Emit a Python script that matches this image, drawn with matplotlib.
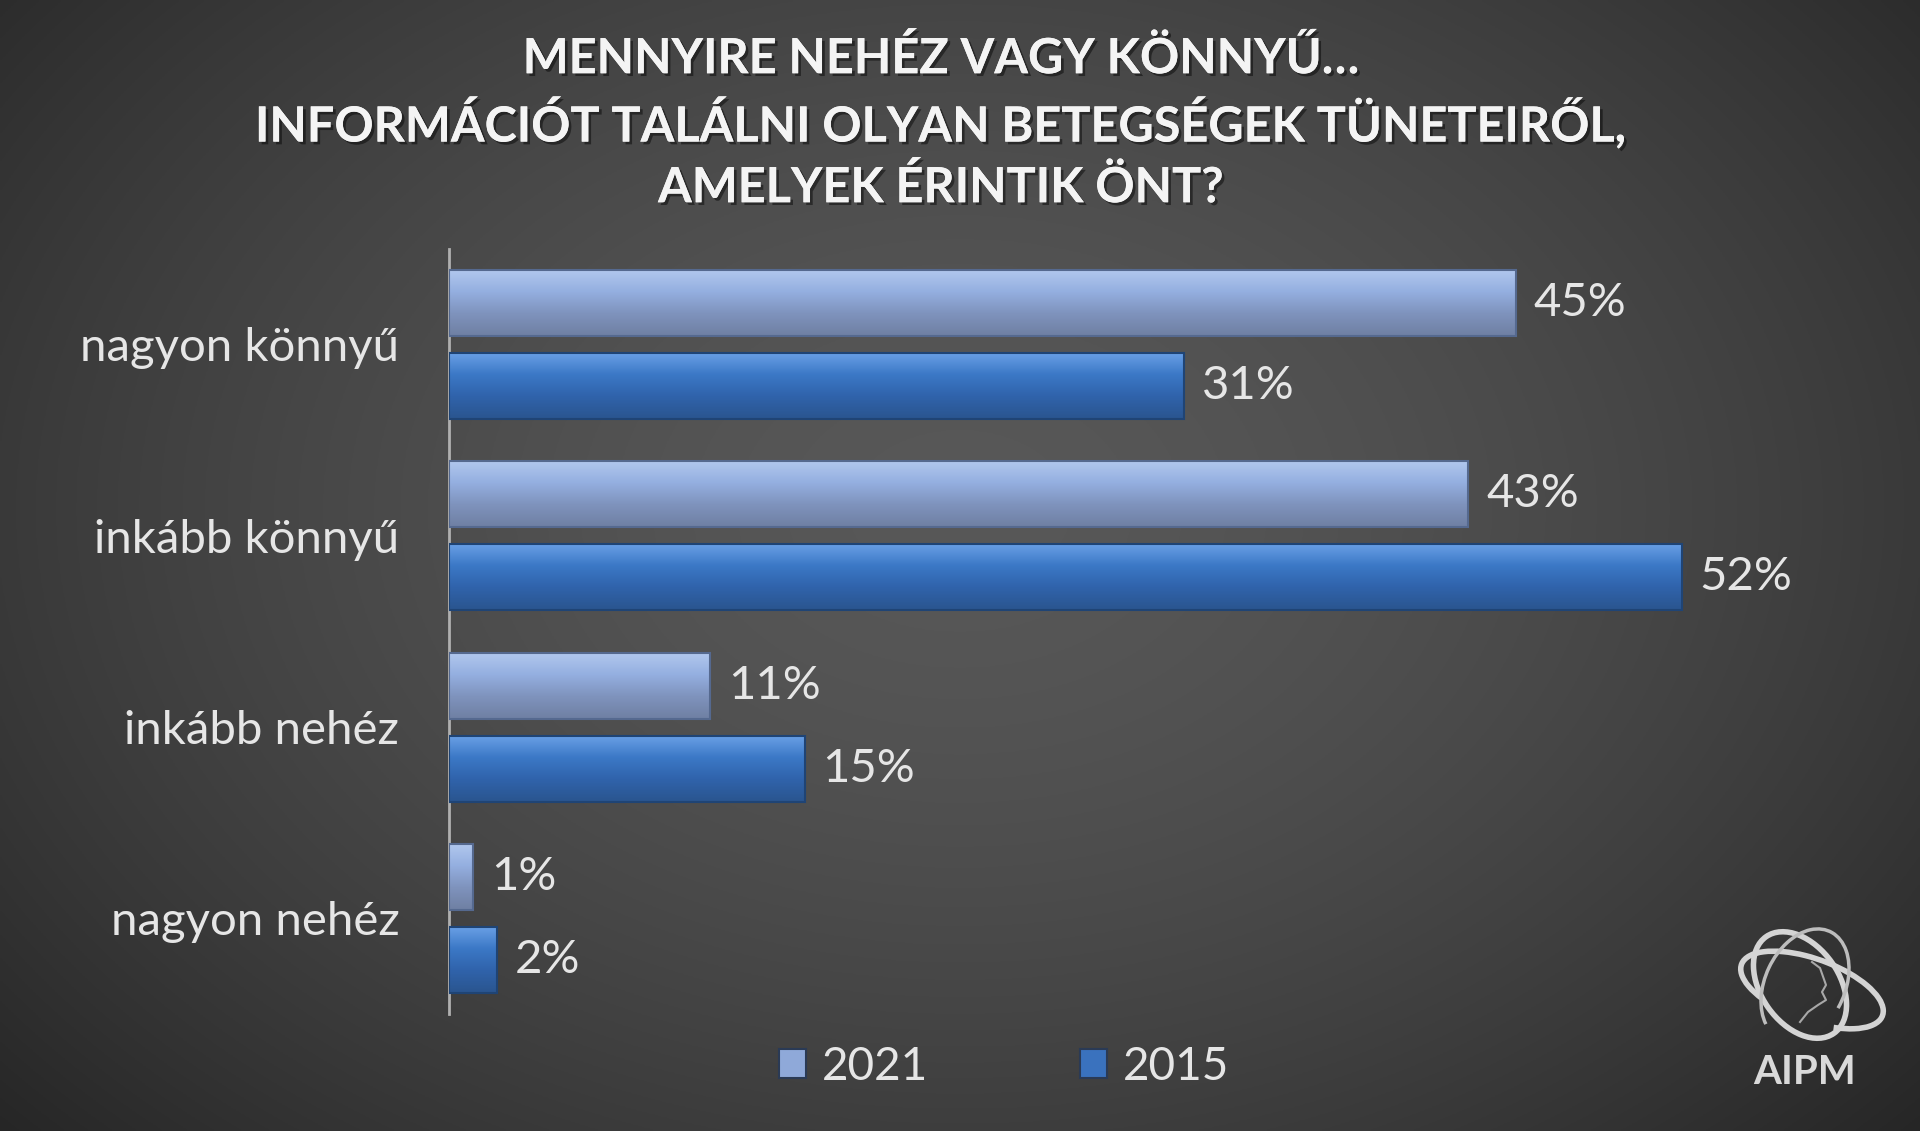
import numpy as np
import matplotlib.pyplot as plt
import matplotlib.patheffects as pe
from matplotlib.patches import Ellipse, Arc
from matplotlib.colors import LinearSegmentedColormap

plt.rcParams['font.family'] = ['Lato', 'DejaVu Sans']

categories = ["nagyon könnyű", "inkább könnyű", "inkább nehéz", "nagyon nehéz"]
series_names = ["2021", "2015"]
values_2021 = [45, 43, 11, 1]
values_2015 = [31, 52, 15, 2]
title_lines = ["MENNYIRE NEHÉZ VAGY KÖNNYŰ…",
               "INFORMÁCIÓT TALÁLNI OLYAN BETEGSÉGEK TÜNETEIRŐL,",
               "AMELYEK ÉRINTIK ÖNT?"]

txt = "#e6e6e6"

fig = plt.figure(figsize=(19.2, 11.31), dpi=100)

# background radial gradient
bg = fig.add_axes([0, 0, 1, 1], zorder=-10)
yy, xx = np.mgrid[0:1:400j, 0:1:700j]
r = np.sqrt(((xx - 0.5) / 0.62) ** 2 + ((yy - 0.55) / 0.75) ** 2)
shade = np.clip(0.345 - 0.17 * r ** 1.6, 0.15, 0.4)
bg.imshow(np.dstack([shade] * 3), extent=[0, 1, 0, 1], aspect="auto", origin="lower")
bg.set_axis_off()

ax = fig.add_axes([0.234, 0.1034, 0.7406, 0.6766])
ax.patch.set_alpha(0)

y = np.arange(len(categories))
h = 0.345
off = 0.217

light = LinearSegmentedColormap.from_list("l", ["#b2c8ee", "#94afe0", "#7f93bd", "#6f80a3"])
dark = LinearSegmentedColormap.from_list("d", ["#6aa0e6", "#3b78c6", "#3063ab", "#2a558f"])

bars1 = ax.barh(y - off, values_2021, height=h, color="#8fa9d9", label=series_names[0], zorder=2)
bars2 = ax.barh(y + off, values_2015, height=h, color="#3a72be", label=series_names[1], zorder=2)

grad = np.linspace(0, 1, 64).reshape(-1, 1)
for bars, cm, edge in [(bars1, light, "#55698f"), (bars2, dark, "#1f4475")]:
    for b in bars:
        x0, y0, w, hh = b.get_x(), b.get_y(), b.get_width(), b.get_height()
        ax.imshow(grad, cmap=cm, extent=[x0, x0 + w, y0 + hh, y0], aspect="auto",
                  origin="upper", zorder=3, interpolation="bilinear")
        b.set_edgecolor(edge)
        b.set_linewidth(1.5)
        b.set_zorder(4)
        b.set_facecolor("none")
        ax.text(w + 0.75, y0 + hh / 2, f"{w:.0f}%", va="center", ha="left",
                fontsize=34, color=txt)

ax.set_xlim(0, 60)
ax.set_ylim(3.5, -0.5)
ax.set_yticks(y)
ax.set_yticklabels(categories, fontsize=34, color=txt)
ax.tick_params(axis="y", length=0, pad=36)
ax.set_xticks([])
for s in ["top", "right", "bottom"]:
    ax.spines[s].set_visible(False)
ax.spines["left"].set_color("#b0b0b0")
ax.spines["left"].set_linewidth(2)

# title
shadow = [pe.withSimplePatchShadow(offset=(2, -2), shadow_rgbFace="black", alpha=0.45), pe.Normal()]
for i, line in enumerate(title_lines):
    fig.text(0.49, 1 - (58 + 64.5 * i) / 1131, line, ha="center", va="center",
             fontsize=35, fontweight="bold", color="#f4f4f4", path_effects=shadow)

# legend
leg = fig.legend(handles=[bars1, bars2], labels=series_names, loc="center",
                 bbox_to_anchor=(0.523, 1 - 1067 / 1131), ncol=2, frameon=False,
                 fontsize=33, handlelength=0.6, handleheight=0.6, columnspacing=3.3,
                 handletextpad=0.35)
for t in leg.get_texts():
    t.set_color(txt)
for hnd, c in zip(leg.legend_handles, ["#8fa9d9", "#3a72be"]):
    hnd.set_facecolor(c)
    hnd.set_edgecolor("#2a3a55")

# logo, in pixel coordinates of the figure corner
la = fig.add_axes([1700 / 1920, 0, 220 / 1920, 231 / 1131])
la.set_xlim(1700, 1920)
la.set_ylim(1131, 900)
la.set_axis_off()
ring = "#d4d4d4"
la.add_patch(Ellipse((1800, 985), 78, 118, angle=-35, fill=False, ec=ring, lw=4))
la.add_patch(Arc((1812, 990), 150, 62, angle=20, theta1=150, theta2=400, ec=ring, lw=4))
la.add_patch(Arc((1805, 985), 118, 80, angle=-65, theta1=200, theta2=460, ec="#bdbdbd", lw=2.5))
la.plot([1812, 1820, 1826, 1822, 1826, 1818, 1808, 1800],
        [962, 968, 985, 992, 1000, 1005, 1012, 1022], color="#a8a8a8", lw=1.5)
la.text(1805, 1072, "AIPM", ha="center", va="center", fontsize=29,
        fontweight="bold", color="#d9d9d9")

fig.savefig("out.png", dpi=100)
